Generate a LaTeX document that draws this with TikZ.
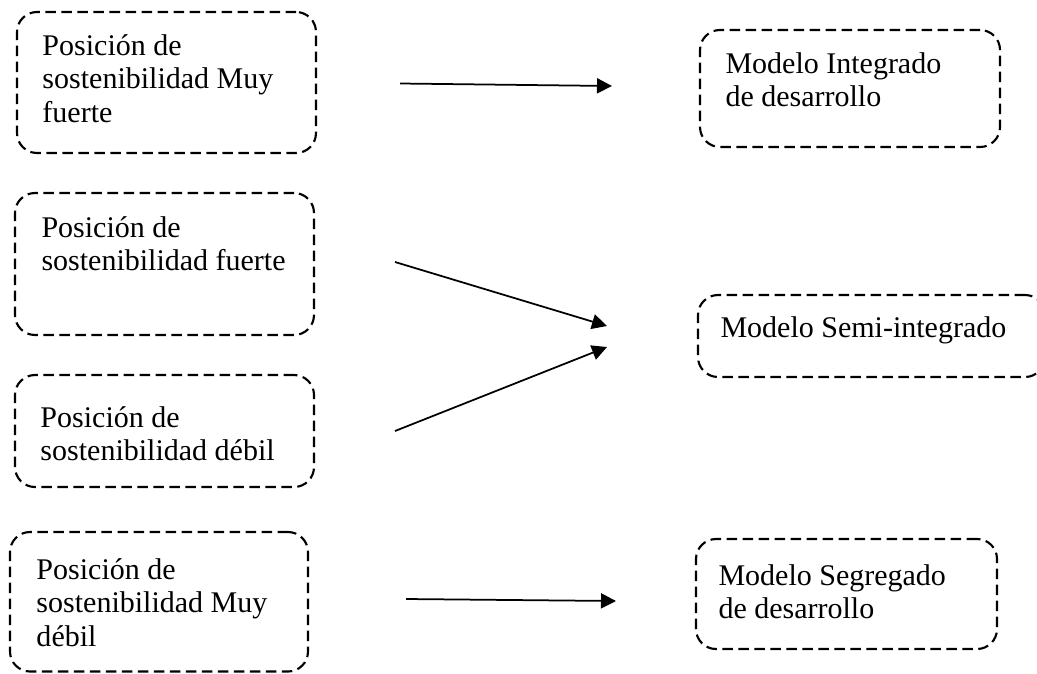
\documentclass[tikz,border=0pt]{standalone}
\usepackage{fontspec}
\setmainfont{Liberation Serif}
\usetikzlibrary{fit, arrows.meta}

\begin{document}
\begin{tikzpicture}[x=0.4pt, y=-0.4pt,
    caja/.style={draw, line width=0.85pt, dash pattern=on 4.2pt off 2.2pt,
      rounded corners=8pt, inner sep=0pt},
    texto/.style={anchor=north west, inner sep=0pt, align=left,
      font=\fontsize{12}{13.4}\selectfont},
    flecha/.style={line width=0.7pt, -{Triangle[length=6pt, width=6pt]}}]
    \useasboundingbox (0,0) rectangle (1037,673);
    % posiciones de sostenibilidad
    \node[caja, fit={(17,12) (316,153)}] (MF) {};
    \node[texto] (MFt) at (42,34) {Posición de\\sostenibilidad Muy\\fuerte};
    \node[caja, fit={(15,193) (314,335)}] (F) {};
    \node[texto] (Ft) at (41,216) {Posición de\\sostenibilidad fuerte};
    \node[caja, fit={(15,375) (314,487)}] (D) {};
    \node[texto] (Dt) at (40,406) {Posición de\\sostenibilidad débil};
    \node[caja, fit={(10,532) (308,671.5)}] (MD) {};
    \node[texto] (MDt) at (36,558) {Posición de\\sostenibilidad Muy\\débil};
    % modelos
    \node[caja, fit={(700,30) (1000,147)}] (I) {};
    \node[texto] (It) at (725,52) {Modelo Integrado\\de desarrollo};
    \node[caja, fit={(698,295) (1045,377)}] (S) {};
    \node[texto] (St) at (720,316) {Modelo Semi-integrado};
    \node[caja, fit={(696,539) (997,649)}] (G) {};
    \node[texto] (Gt) at (718,564) {Modelo Segregado\\de desarrollo};
    % flechas
    \coordinate (a1) at (400,83.5);
    \coordinate (b1) at (612,86);
    \coordinate (a2) at (395,262);
    \coordinate (b2) at (607,326);
    \coordinate (a3) at (395,431);
    \coordinate (b3) at (607,347);
    \coordinate (a4) at (406,599);
    \coordinate (b4) at (616,601);
    \draw[flecha] (a1)--(b1);
    \draw[flecha] (a2)--(b2);
    \draw[flecha] (a3)--(b3);
    \draw[flecha] (a4)--(b4);
\end{tikzpicture}
\end{document}
